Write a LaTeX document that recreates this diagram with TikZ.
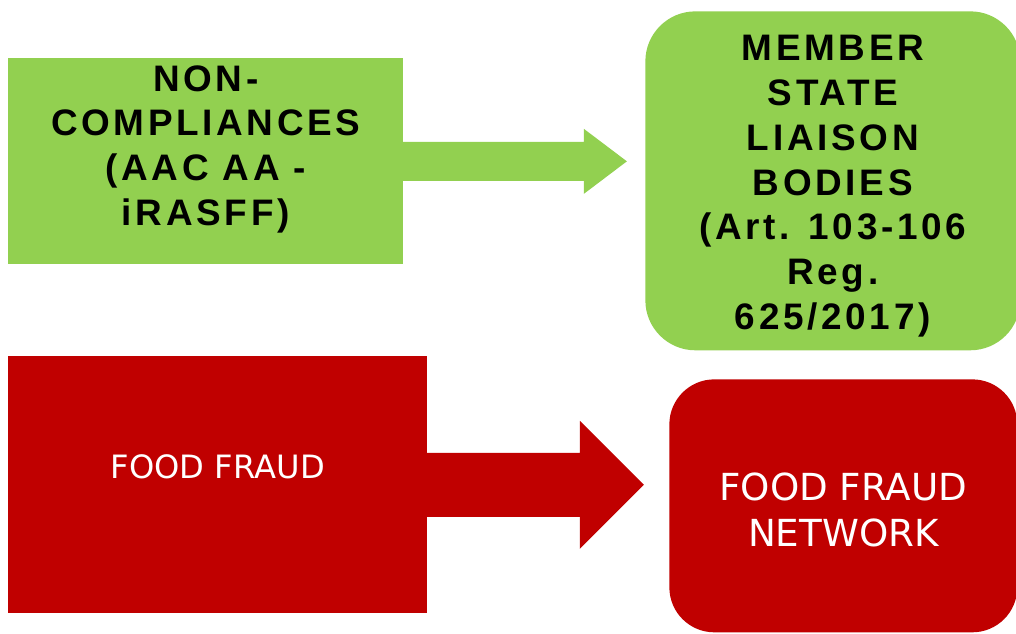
\documentclass[tikz,border=0pt]{standalone}
\usepackage{fontspec}
\setmainfont{Liberation Sans}
\newfontfamily\boldsans[LetterSpace=10]{Liberation Sans}
\newfontfamily\verdsans{DejaVu Sans}
\usetikzlibrary{positioning}
\definecolor{leafgreen}{HTML}{92D050}
\definecolor{fraudred}{HTML}{C00000}

\begin{document}
\begin{tikzpicture}[
		x=0.02cm, y=-0.02cm,
		greenbox/.style={fill=leafgreen,inner sep=0,anchor=north west},
		redbox/.style={fill=fraudred,inner sep=0,anchor=north west},
		greentext/.style={align=center,inner sep=0,font=\boldsans\bfseries\fontsize{21}{25.5}\selectfont},
		redtext/.style={align=center,inner sep=0,text=white,font=\verdsans\fontsize{#1}{26}\selectfont}
		]
		\useasboundingbox (0,0) rectangle (1016,633);
		% boxes
		\node[greenbox,minimum width=7.9cm,minimum height=4.12cm] (noncomp) at (8,58) {};
		\node[greenbox,rounded corners=1cm,minimum width=7.5cm,minimum height=6.78cm] (liaison) at (645,11) {};
		\node[redbox,minimum width=8.38cm,minimum height=5.14cm] (fraud) at (8,356) {};
		\node[redbox,rounded corners=0.9cm,minimum width=6.96cm,minimum height=5.06cm] (network) at (669,379) {};
		% block arrows
		\fill[leafgreen] ([xshift=-1pt]noncomp.east) ++(0,-19.5) -- ++(182,0) -- ++(0,-13) -- ++(43,32.5) -- ++(-43,32.5) -- ++(0,-13) -- ++(-182,0) -- cycle;
		\fill[fraudred] ([xshift=-1pt]fraud.east) ++(0,-32) -- ++(154,0) -- ++(0,-32) -- ++(64,64) -- ++(-64,64) -- ++(0,-32) -- ++(-154,0) -- cycle;
		% texts
		\node[greentext,below=0.14cm of noncomp.north] (noncomp-text) {NON-\\COMPLIANCES\\(AAC AA -\\iRASFF)};
		\node[greentext,below=0.48cm of liaison.north] (liaison-text) {MEMBER\\STATE\\LIAISON\\BODIES\\(Art. 103-106\\Reg.\\625/2017)};
		\node[redtext=18.3] (fraud-text) at ([yshift=0.36cm]fraud.center) {FOOD FRAUD};
		\node[redtext=21.2] (network-text) at ([yshift=-0.08cm]network.center) {FOOD FRAUD\\NETWORK};
	\end{tikzpicture}
\end{document}
